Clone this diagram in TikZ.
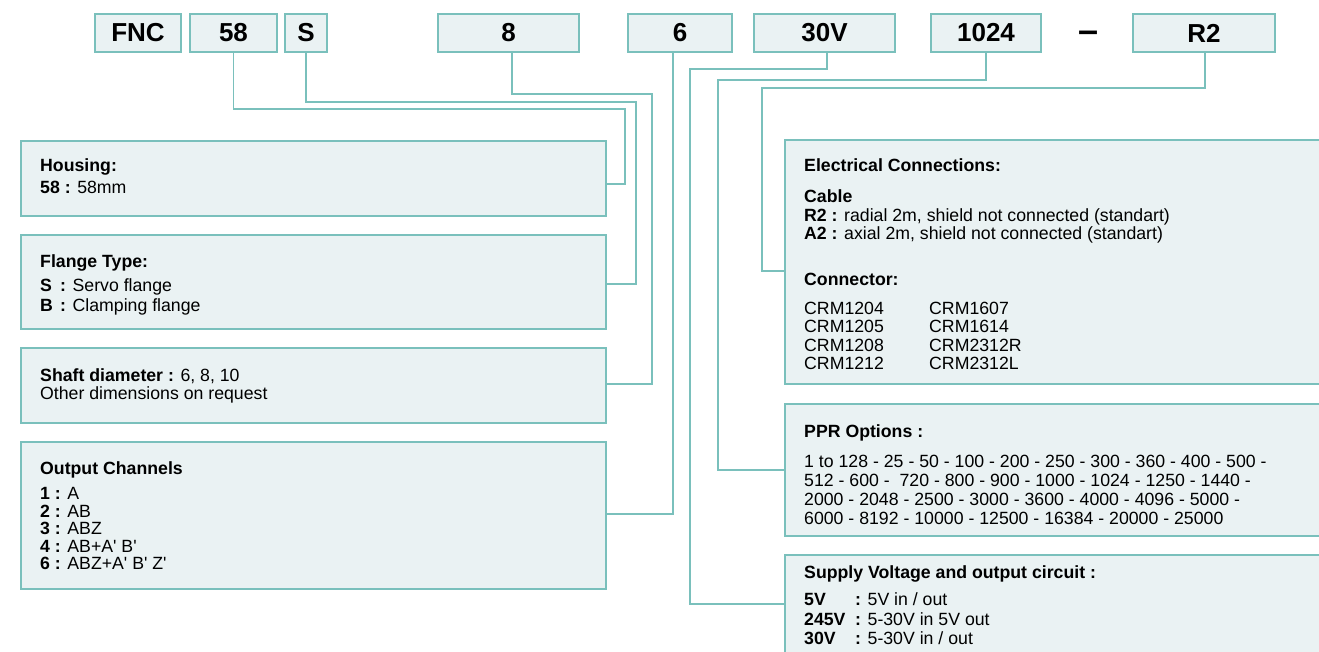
\documentclass[tikz,border=0pt]{standalone}
\usepackage{fontspec}
\setmainfont{Liberation Sans}
\usetikzlibrary{positioning}

\definecolor{frame}{RGB}{122,192,188}
\definecolor{panel}{RGB}{234,242,243}

\begin{document}
\begin{tikzpicture}[
  x=1pt, y=-1pt,
  tag/.style={draw=frame, fill=panel, line width=1.5pt, minimum height=38pt, inner sep=0pt, font=\fontsize{26}{28}\selectfont\bfseries},
  panelbox/.style={draw=frame, fill=panel, line width=1.5pt, inner sep=0pt, outer sep=0pt},
  txt/.style={anchor=base west, inner sep=0pt, font=\fontsize{17.7}{19}\selectfont},
  link/.style={draw=frame, line width=1.5pt}
]
\useasboundingbox (0,0) rectangle (1319,652);
\clip (0,0) rectangle (1319,652);

% order code
\node[tag, minimum width=86pt] (tFNC) at (138,33) {FNC};
\node[tag, minimum width=87pt] (t58) at (233.5,33) {58};
\node[tag, minimum width=42pt] (tS) at (306,33) {S};
\node[tag, minimum width=141pt] (t8) at (508.5,33) {8};
\node[tag, minimum width=104pt] (t6) at (680,33) {6};
\node[tag, minimum width=141pt] (t30) at (824.5,33) {30V};
\node[tag, minimum width=110pt] (t1024) at (986,33) {1024};
\node[anchor=base, inner sep=0pt, font=\fontsize{36}{38}\selectfont\bfseries] (dash) at (1088,42.5) {–};
\node[tag, minimum width=142pt] (tR2) at (1204,33) {R2};

% left column
\node[panelbox, anchor=north west, minimum width=585pt, minimum height=75pt] (house) at (21,141) {};
\node[panelbox, minimum width=585pt, minimum height=94pt, below=19pt of house] (flange) {};
\node[panelbox, minimum width=585pt, minimum height=75pt, below=19pt of flange] (shaft) {};
\node[panelbox, minimum width=585pt, minimum height=147pt, below=19pt of shaft] (output) {};

% right column
\node[panelbox, anchor=north west, minimum width=560pt, minimum height=244pt] (elec) at (785,140) {};
\node[panelbox, minimum width=560pt, minimum height=132pt, below=20pt of elec] (ppr) {};
\node[panelbox, minimum width=560pt, minimum height=102pt, below=19pt of ppr] (supply) {};

% housing
\node[txt] (houseT) at (40,172) {\textbf{Housing:}};
\node[txt] (houseL) at (40,194) {\textbf{58 :} 58mm};

% flange
\node[txt] (flangeT) at (40,268) {\textbf{Flange Type:}};
\node[txt] (flangeS) at (40,291) {\makebox[20pt][l]{\textbf{S}}\textbf{:} Servo flange};
\node[txt] (flangeB) at (40,311) {\makebox[20pt][l]{\textbf{B}}\textbf{:} Clamping flange};

% shaft
\node[txt] (shaftT) at (40,381) {\textbf{Shaft diameter :} 6, 8, 10};
\node[txt] (shaftL) at (40,399) {Other dimensions on request};

% output channels
\node[txt] (outT) at (40,474) {\textbf{Output Channels}};
\foreach \k/\v [count=\i] in {1/A, 2/AB, 3/ABZ, 4/AB+A\textquotesingle{} B\textquotesingle, 6/ABZ+A\textquotesingle{} B\textquotesingle{} Z\textquotesingle}
  \node[txt] (ch\i) at (40,482+17.5*\i) {\textbf{\k\ :} \v};

% electrical connections
\node[txt] (elecT) at (804,172) {\textbf{Electrical Connections:}};
\node[txt] (cableT) at (804,203) {\textbf{Cable}};
\node[txt] (cableR) at (804,221.5) {\textbf{R2 :} radial 2m, shield not connected (standart)};
\node[txt] (cableA) at (804,240) {\textbf{A2 :} axial 2m, shield not connected (standart)};
\node[txt] (connT) at (804,285) {\textbf{Connector:}};
\foreach \a/\b [count=\i] in {CRM1204/CRM1607, CRM1205/CRM1614, CRM1208/CRM2312R, CRM1212/CRM2312L} {
  \node[txt] (crmA\i) at (804,295.5+18.5*\i) {\a};
  \node[txt] (crmB\i) at (929,295.5+18.5*\i) {\b};
}

% ppr
\node[txt] (pprT) at (804,437) {\textbf{PPR Options :}};
\node[txt] (ppr1) at (804,467.5) {1 to 128 - 25 - 50 - 100 - 200 - 250 - 300 - 360 - 400 - 500 -};
\node[txt] (ppr2) at (804,486.5) {512 - 600 -\ \ 720 - 800 - 900 - 1000 - 1024 - 1250 - 1440 -};
\node[txt] (ppr3) at (804,505.5) {2000 - 2048 - 2500 - 3000 - 3600 - 4000 - 4096 - 5000 -};
\node[txt] (ppr4) at (804,524.5) {6000 - 8192 - 10000 - 12500 - 16384 - 20000 - 25000};

% supply
\node[txt] (supT) at (804,578) {\textbf{Supply Voltage and output circuit :}};
\node[txt] (sup1) at (804,605) {\makebox[51pt][l]{\textbf{5V}}\textbf{:} 5V in / out};
\node[txt] (sup2) at (804,625) {\makebox[51pt][l]{\textbf{245V}}\textbf{:} 5-30V in 5V out};
\node[txt] (sup3) at (804,644) {\makebox[51pt][l]{\textbf{30V}}\textbf{:} 5-30V in / out};

% leader lines
\draw[link] (t58.south) |- (625,109) |- ([yshift=-5.5pt]house.east);
\draw[link] (tS.south) |- (636,102) |- ([yshift=-2pt]flange.east);
\draw[link] ([xshift=3.5pt]t8.south) |- (652,94) |- ([yshift=1.5pt]shaft.east);
\draw[link] ([xshift=-7pt]t6.south) |- ([yshift=1.5pt]output.east);
\draw[link] ([xshift=2.5pt]t30.south) |- (690,69) |- ([yshift=2pt]supply.west);
\draw[link] (t1024.south) |- (718,80) |- (ppr.west);
\draw[link] ([xshift=1pt]tR2.south) |- (762,88) |- ([yshift=-9pt]elec.west);
\end{tikzpicture}
\end{document}
